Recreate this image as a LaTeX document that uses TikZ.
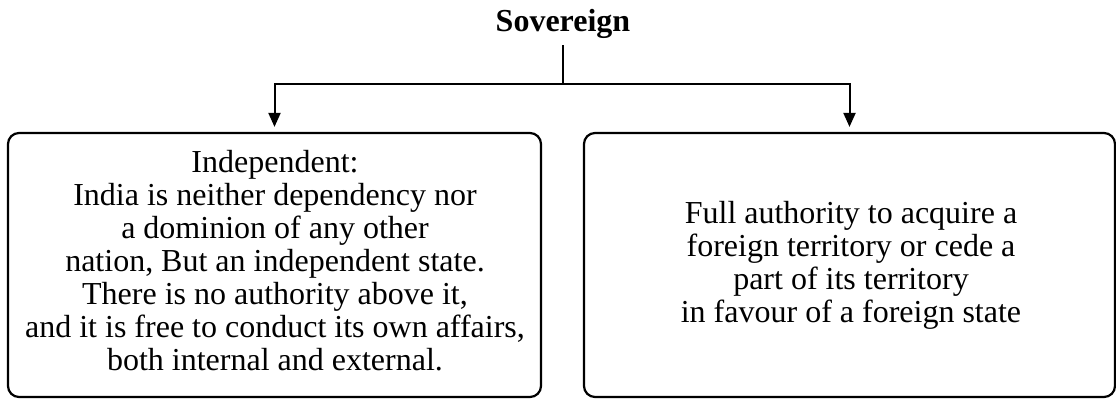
\documentclass[tikz,border=0pt]{standalone}
\usepackage{fontspec}
\setmainfont{Liberation Serif}
\usetikzlibrary{arrows.meta}
\begin{document}
\begin{tikzpicture}[x=1pt,y=-1pt,
  box/.style={draw,line width=2.2pt,rounded corners=11pt,inner sep=0pt},
  txt/.style={align=center,font=\fontsize{32}{33}\selectfont,inner sep=0pt},
  conn/.style={line width=2pt},
  arr/.style={conn,-{Triangle[width=12pt,length=14pt]},shorten >=5pt}]
\useasboundingbox (0,0) rectangle (1116,399);
\node[font=\fontsize{32}{32}\selectfont\bfseries] (sov) at (563,24) {Sovereign};
\node[box,minimum width=533pt,minimum height=264pt] (a) at (274.5,265) {};
\node[box,minimum width=531pt,minimum height=264pt] (b) at (849.5,265) {};
\node[txt] (at) at (275,261) {Independent:\\India is neither dependency nor\\a dominion of any other\\nation, But an independent state.\\There is no authority above it,\\and it is free to conduct its own affairs,\\both internal and external.};
\node[txt] (bt) at (851,265) {Full authority to acquire a\\foreign territory or cede a\\part of its territory\\in favour of a foreign state};
\coordinate (top) at (563,45);
\coordinate (j) at (563,84);
\draw[conn] (top) -- (j);
\draw[arr] (j) -| (a.north);
\draw[arr] (j) -| (b.north);
\end{tikzpicture}
\end{document}
